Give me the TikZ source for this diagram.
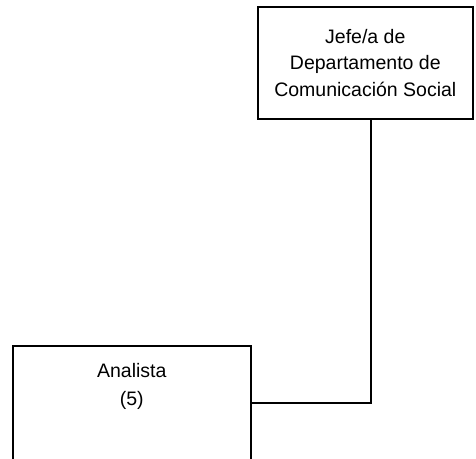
\documentclass[tikz,border=0pt]{standalone}
\usepackage{fontspec}
\setmainfont{Liberation Sans}
\usetikzlibrary{positioning, calc}

\begin{document}
\begin{tikzpicture}[
  x=1pt, y=-1pt,
  font=\fontsize{19.5}{26.5}\selectfont,
  unitbox/.style={draw=black, line width=1.6pt, align=center, inner sep=0pt},
  link/.style={draw=black, line width=1.6pt}
]
\clip (0,0) rectangle (476,458);
\useasboundingbox (0,0) rectangle (476,458);

\node[unitbox, anchor=north west, minimum width=215pt, minimum height=112pt] (jefe) at (257,6)
  {Jefe/a de\\Departamento de\\Comunicaci\'on Social};
\node[unitbox, anchor=north west, minimum width=238pt, text height=60pt, text depth=54pt,
      font=\fontsize{19.5}{28.5}\selectfont] (analista) at (12,345)
  {Analista\\(5)};

\coordinate (codo) at (371,402);
\draw[link] (jefe.south -| codo) |- (analista.east);
\end{tikzpicture}
\end{document}
